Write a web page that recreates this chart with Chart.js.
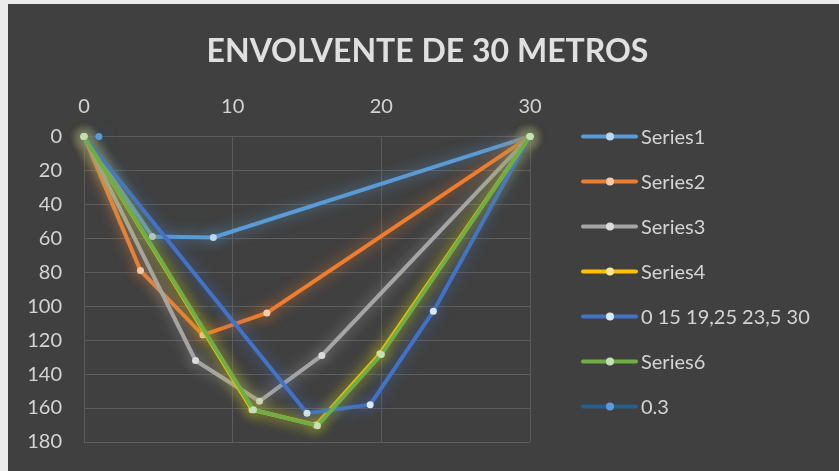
<!DOCTYPE html>
<html>
<head>
<meta charset="utf-8">
<script src="https://cdn.jsdelivr.net/npm/chart.js@4/dist/chart.umd.min.js"></script>
<style>
  html, body { margin: 0; padding: 0; background: #ececec; }
  #wrap { position: absolute; left: 8px; top: 4px; width: 831px; height: 467px; background: #404040; }
</style>
</head>
<body>
<div id="wrap"><canvas id="chart" width="831" height="467"></canvas></div>
<script>
// data (x in metres, y = depth)
const seriesNames = ['Series1', 'Series2', 'Series3', 'Series4', '0 15 19,25 23,5 30', 'Series6', '0.3'];
const series1 = [[0, 0], [4.6, 59], [8.7, 59.5], [30, 0]];
const series2 = [[0, 0], [3.8, 79], [8.0, 117], [12.3, 104], [30, 0]];
const series3 = [[0, 0], [7.5, 132], [11.8, 156], [16.0, 129], [30, 0]];
const series4 = [[0, 0], [11.3, 161], [15.6, 170], [19.9, 128], [30, 0]];
const series5 = [[0, 0], [15, 163], [19.25, 158], [23.5, 103], [30, 0]];
const series6 = [[0, 0], [11.4, 161], [15.7, 170.5], [20, 128.5], [30, 0]];
const series7 = [[1, 0]];
const xTicks = [0, 10, 20, 30];
const yTicks = [0, 20, 40, 60, 80, 100, 120, 140, 160, 180];

const lineColors = ['#5B9BD5', '#ED7D31', '#A5A5A5', '#FFC000', '#4472C4', '#70AD47', '#255E91'];
const markerColors = ['#BDD7EE', '#F8CBAD', '#DBDBDB', '#FFE699', '#DAE8F7', '#C5E0B4', '#5B9BD5'];
const allSeries = [series1, series2, series3, series4, series5, series6, series7];

const fontFam = "'Lato', 'Noto Sans', sans-serif";

// excel style soft glow round every series
const glowPlugin = {
    id: 'glow',
    beforeDatasetDraw(chart, args) {
        const ds = chart.data.datasets[args.index];
        chart.ctx.save();
        chart.ctx.shadowColor = ds.borderColor + 'C8';
        chart.ctx.shadowBlur = 14;
    },
    afterDatasetDraw(chart) {
        chart.ctx.restore();
    }
};

// legend on the right: line + marker, one row per series
const sideLegend = {
    id: 'sideLegend',
    afterDraw(chart) {
        const ctx = chart.ctx;
        const area = chart.chartArea;
        const x0 = area.right + 53;
        ctx.save();
        ctx.font = '20px ' + fontFam;
        ctx.textBaseline = 'middle';
        chart.data.datasets.forEach(function(ds, i) {
            const y = area.top + i * 45;
            ctx.strokeStyle = ds.borderColor;
            ctx.lineWidth = 4;
            ctx.lineCap = 'round';
            ctx.beginPath();
            ctx.moveTo(x0, y);
            ctx.lineTo(x0 + 53, y);
            ctx.stroke();
            ctx.fillStyle = ds.pointBackgroundColor;
            ctx.beginPath();
            ctx.arc(x0 + 27, y, 4, 0, Math.PI * 2);
            ctx.fill();
            ctx.fillStyle = '#d4d4d4';
            ctx.fillText(ds.label, x0 + 58, y + 1);
        });
        ctx.restore();
    }
};

const datasets = allSeries.map(function(pts, i) {
    return {
        label: seriesNames[i],
        data: pts.map(p => ({x: p[0], y: p[1]})),
        borderColor: lineColors[i],
        backgroundColor: markerColors[i],
        pointBackgroundColor: markerColors[i],
        pointBorderWidth: 0,
        pointRadius: 3.5,
        borderWidth: 4,
        tension: 0,
        clip: false,
        order: 10 - i
    };
});

new Chart(document.getElementById('chart').getContext('2d'), {
    type: 'scatter',
    data: { datasets: datasets },
    options: {
        responsive: false,
        animation: false,
        showLine: true,
        layout: { padding: { left: 8, right: 0, top: 0, bottom: 29 } },
        scales: {
            x: {
                type: 'linear',
                position: 'top',
                min: 0,
                max: 30,
                afterBuildTicks: axis => { axis.ticks = xTicks.map(v => ({value: v})); },
                ticks: { color: '#d4d4d4', font: { family: fontFam, size: 20 }, padding: 18 },
                grid: { color: '#5c5c5c', lineWidth: 1, drawTicks: false },
                border: { color: '#5c5c5c' }
            },
            y: {
                type: 'linear',
                reverse: true,
                min: 0,
                max: 180,
                afterBuildTicks: axis => { axis.ticks = yTicks.map(v => ({value: v})); },
                afterFit: axis => { axis.width = 68; axis.paddingTop = 0; axis.paddingBottom = 0; },
                ticks: { color: '#d4d4d4', font: { family: fontFam, size: 20 }, padding: 22 },
                grid: { color: '#5c5c5c', lineWidth: 1, drawTicks: false },
                border: { color: '#5c5c5c' }
            },
            // empty axis that keeps room for the legend
            legendRoom: {
                type: 'linear',
                position: 'right',
                grid: { display: false },
                ticks: { display: false },
                border: { display: false },
                afterFit: axis => { axis.width = 309; axis.paddingTop = 0; axis.paddingBottom = 0; }
            }
        },
        plugins: {
            title: {
                display: true,
                text: 'ENVOLVENTE DE 30 METROS',
                color: '#e0e0e0',
                font: { family: fontFam, size: 32, weight: 'bold' },
                padding: { top: 28, bottom: 6 }
            },
            legend: { display: false },
            tooltip: { enabled: false }
        }
    },
    plugins: [glowPlugin, sideLegend]
});
</script>
</body>
</html>
